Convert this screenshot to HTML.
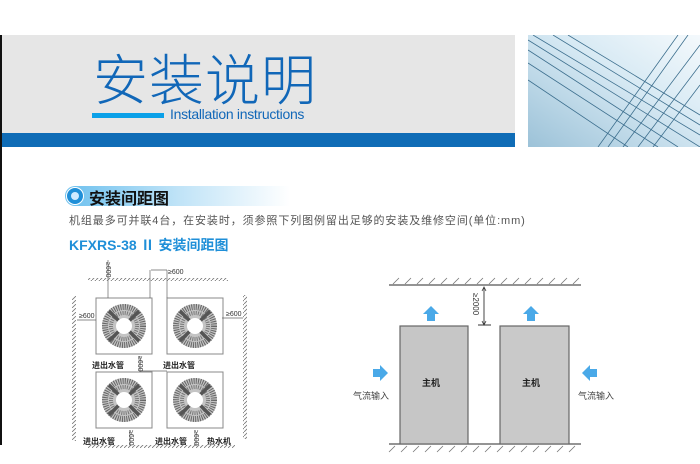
<!DOCTYPE html>
<html><head><meta charset="utf-8"><style>
body{margin:0;width:700px;height:464px;overflow:hidden;background:#fff;position:relative;font-family:"Liberation Sans","Noto Sans CJK SC",sans-serif}
.a{position:absolute}
</style></head><body>
<div class="a" style="left:0;top:35px;width:2px;height:410px;background:#111"></div>
<div class="a" style="left:2px;top:35px;width:513px;height:98px;background:#e6e6e6"></div>
<div class="a" style="left:2px;top:133px;width:513px;height:14px;background:#0f6cb6"></div>
<div class="a" style="left:93px;top:44px;font-size:55px;color:#1167b8;letter-spacing:1px;line-height:64px;font-family:'Noto Sans CJK SC',sans-serif;font-weight:300">安装说明</div>
<div class="a" style="left:92px;top:113px;width:72px;height:5px;background:#0aa0e8"></div>
<div class="a" style="left:170px;top:106px;font-size:14px;color:#1167b8;letter-spacing:-0.3px">Installation instructions</div>
<svg class="a" style="left:528px;top:35px" width="172" height="112">
<defs><linearGradient id="g" x1="0" y1="1" x2="1" y2="0"><stop offset="0" stop-color="#9cc2d8"/><stop offset="0.6" stop-color="#d8eaf4"/><stop offset="1" stop-color="#f4f9fc"/></linearGradient></defs>
<rect width="172" height="112" fill="url(#g)"/>
<g stroke="#3d6f8e" stroke-width="0.8" fill="none">
<path d="M0 5L172 112M0 15L150 112M0 28L130 112M5 0L172 100M25 0L172 90M0 45L100 112M40 0L172 80"/>
<path d="M172 10L95 112M172 30L110 112M160 0L80 112M150 0L70 112M172 50L125 112"/>
</g></svg>
<div class="a" style="left:65px;top:186px;width:225px;height:20px;border-radius:10px 0 0 10px;background:linear-gradient(90deg,#6cc0ee,#bfe3f7 50%,#fff)"></div>
<div class="a" style="left:66px;top:187px;width:18px;height:18px;border-radius:50%;background:#1f8fd8;border:1px solid #fff;box-sizing:border-box"></div>
<div class="a" style="left:71px;top:192px;width:8px;height:8px;border-radius:50%;background:#cfeaff"></div>
<div class="a" style="left:89px;top:185px;font-size:16px;font-weight:bold;color:#111">安装间距图</div>
<div class="a" style="left:69px;top:212px;font-size:11px;color:#555;letter-spacing:0.9px">机组最多可并联4台，在安装时，须参照下列图例留出足够的安装及维修空间(单位:mm)</div>
<div class="a" style="left:69px;top:235px;font-size:14px;color:#1f8fd8;font-weight:bold">KFXRS-38 Ⅱ 安装间距图</div>
<svg class="a" style="left:0;top:0" width="700" height="464" font-family="Liberation Sans,Noto Sans CJK SC,sans-serif">
<defs>
<pattern id="h" width="4" height="4" patternUnits="userSpaceOnUse"><path d="M0 4L4 0" stroke="#777" stroke-width="0.8"/></pattern>
<g id="fan">
<rect x="0" y="0" width="56" height="56" fill="#fff" stroke="#888"/>
<circle cx="28" cy="28" r="22" fill="#c4c4c4"/>
<circle cx="28" cy="28" r="19" fill="none" stroke="#666" stroke-dasharray="1 1.2" stroke-width="6"/>
<circle cx="28" cy="28" r="13" fill="none" stroke="#777" stroke-width="4" stroke-dasharray="1 1.2"/>
<path d="M13 13L43 43M43 13L13 43" stroke="#555" stroke-width="3.5"/>
<circle cx="28" cy="28" r="8" fill="#fff"/>
</g>
<g id="ar"><path d="M-4 12V5H-8L0-3L8 5H4V12Z" fill="#4aa9e8"/></g>
</defs>
<rect x="88" y="278" width="140" height="3" fill="url(#h)"/>
<rect x="72" y="296" width="4" height="145" fill="url(#h)"/>
<rect x="243" y="295" width="4" height="144" fill="url(#h)"/>
<rect x="88" y="445" width="147" height="3" fill="url(#h)"/>
<use href="#fan" x="96" y="298"/><use href="#fan" x="167" y="298"/>
<use href="#fan" x="96" y="372"/><use href="#fan" x="167" y="372"/>
<g stroke="#666" stroke-width="0.7" fill="none"><path d="M108 260V298M150 270V298M167 270V298M151 270H167M77 320H96M222 318H243M140 356V372M140 371H167M130 432V446M196 432V446"/></g>
<g font-size="7" fill="#333"><text x="79" y="318">≥600</text><text x="226" y="316">≥600</text><text x="168" y="274">≥600</text>
<text transform="translate(106,262) rotate(90)">≥600</text><text transform="translate(138,356) rotate(90)">≥600</text>
<text transform="translate(129,430) rotate(90)">≥600</text><text transform="translate(194,430) rotate(90)">≥600</text></g>
<g font-size="8" font-weight="bold" fill="#222"><text x="92" y="368">进出水管</text><text x="163" y="368">进出水管</text><text x="83" y="444">进出水管</text><text x="155" y="444">进出水管</text><text x="207" y="444">热水机</text></g>
<path d="M389 285H581" stroke="#555" stroke-width="1.2"/>
<path d="M389 444H581" stroke="#555" stroke-width="1.2"/>
<g stroke="#777" stroke-width="0.8"><path d="M393 284l6-6M405 284l6-6M417 284l6-6M429 284l6-6M441 284l6-6M453 284l6-6M465 284l6-6M477 284l6-6M489 284l6-6M501 284l6-6M513 284l6-6M525 284l6-6M537 284l6-6M549 284l6-6M561 284l6-6M573 284l6-6"/>
<path d="M389 452l6-6M401 452l6-6M413 452l6-6M425 452l6-6M437 452l6-6M449 452l6-6M461 452l6-6M473 452l6-6M485 452l6-6M497 452l6-6M509 452l6-6M521 452l6-6M533 452l6-6M545 452l6-6M557 452l6-6M569 452l6-6"/></g>
<rect x="400" y="326" width="68" height="118" fill="#c6c6c6" stroke="#666" stroke-width="1.2"/>
<rect x="500" y="326" width="69" height="118" fill="#c9c9c9" stroke="#666" stroke-width="1.2"/>
<path d="M484 288V324M478 325H491" stroke="#333" stroke-width="0.9"/>
<path d="M482 291l2-4 2 4M482 321l2 4 2-4" stroke="#333" fill="none" stroke-width="0.8"/>
<text transform="translate(473,293) rotate(90)" font-size="8" fill="#333">≥2000</text>
<use href="#ar" x="431" y="309"/><use href="#ar" x="531" y="309"/>
<use href="#ar" transform="translate(385,373) rotate(90)"/><use href="#ar" transform="translate(585,373) rotate(-90)"/>
<g font-size="9" font-weight="bold" fill="#222"><text x="422" y="386">主机</text><text x="522" y="386">主机</text></g>
<g font-size="9" fill="#444"><text x="353" y="399">气流输入</text><text x="578" y="399">气流输入</text></g>
</svg>
</body></html>
